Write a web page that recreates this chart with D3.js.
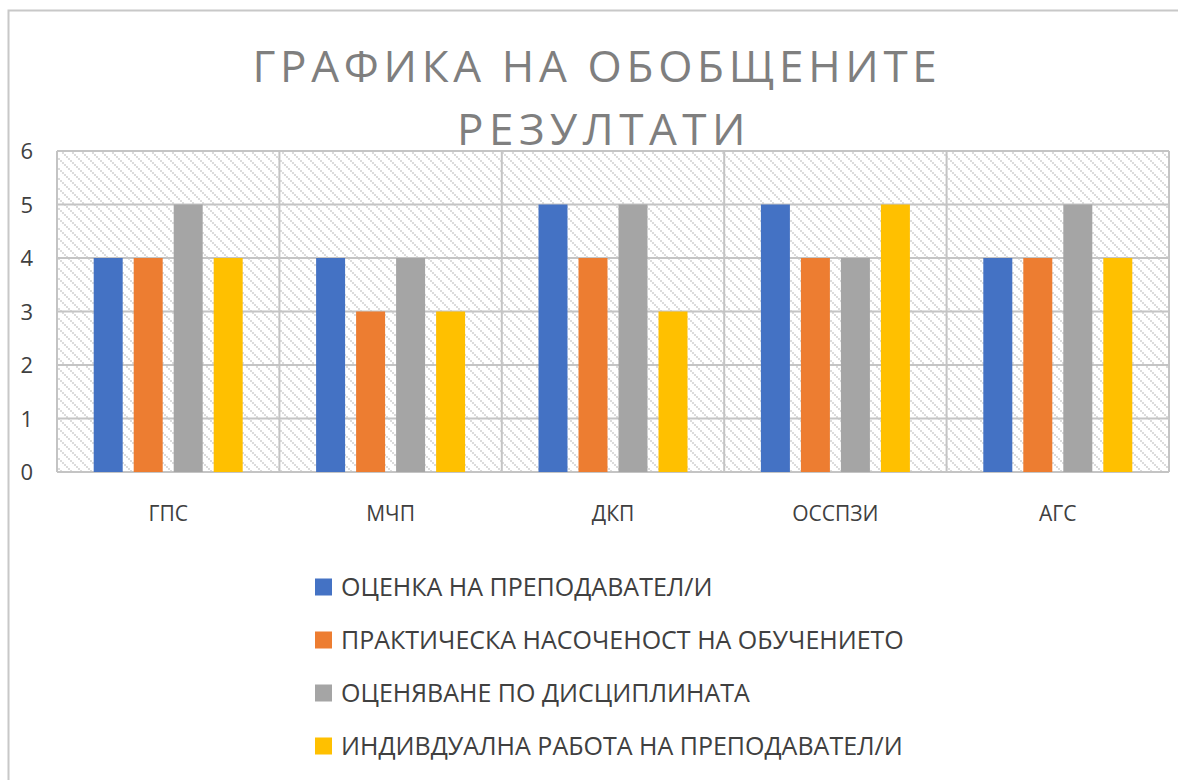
<!DOCTYPE html>
<html>
<head>
<meta charset="utf-8">
<script src="https://cdn.jsdelivr.net/npm/d3@7"></script>
<style>
  html, body { margin: 0; padding: 0; background: #fff; }
  svg { display: block; }
</style>
</head>
<body>
<svg id="chart" width="1178" height="780"></svg>
<script>
const titleLines = ["ГРАФИКА НА ОБОБЩЕНИТЕ", "РЕЗУЛТАТИ"];
const categories = ["ГПС", "МЧП", "ДКП", "ОССПЗИ", "АГС"];
const seriesNames = [
  "ОЦЕНКА НА ПРЕПОДАВАТЕЛ/И",
  "ПРАКТИЧЕСКА НАСОЧЕНОСТ НА ОБУЧЕНИЕТО",
  "ОЦЕНЯВАНЕ ПО ДИСЦИПЛИНАТА",
  "ИНДИВДУАЛНА РАБОТА НА ПРЕПОДАВАТЕЛ/И"
];
const seriesColors = ["#4472c4", "#ed7d31", "#a5a5a5", "#ffc000"];
const s1 = [4, 4, 5, 5, 4];
const s2 = [4, 3, 4, 4, 4];
const s3 = [5, 4, 5, 4, 5];
const s4 = [4, 3, 3, 5, 4];
const yTicks = [0, 1, 2, 3, 4, 5, 6];

const seriesValues = [s1, s2, s3, s4];
const svg = d3.select("#chart");
const font = "'Open Sans', 'Noto Sans', sans-serif";

// outer chart border
svg.append("rect").attr("x", 8.5).attr("y", 10.5).attr("width", 1200).attr("height", 800)
  .attr("fill", "#fff").attr("stroke", "#c8c8c8").attr("stroke-width", 2);

// pattern
const defs = svg.append("defs");
const T = 10;
const pat = defs.append("pattern").attr("id", "hatch").attr("patternUnits", "userSpaceOnUse")
  .attr("width", T).attr("height", T);
pat.append("rect").attr("width", T).attr("height", T).attr("fill", "#ffffff");
d3.range(0, T, 2).forEach(k => {
  pat.append("rect").attr("x", k).attr("y", k).attr("width", 2).attr("height", 2).attr("fill", "#dcdcdc");
});

const plot = { left: 57, top: 151, right: 1169, bottom: 472 };

const x0 = d3.scaleBand().domain(categories).range([plot.left, plot.right]).padding(0);
const groupW = 149;
const x1 = d3.scaleBand().domain(d3.range(seriesNames.length))
  .range([(x0.bandwidth() - groupW) / 2, (x0.bandwidth() + groupW) / 2])
  .paddingInner(11 / 40).paddingOuter(0);
const y = d3.scaleLinear().domain([0, 6]).range([plot.bottom, plot.top]);

// plot area background
svg.append("rect").attr("x", plot.left).attr("y", plot.top)
  .attr("width", plot.right - plot.left).attr("height", plot.bottom - plot.top)
  .attr("fill", "url(#hatch)");

// horizontal grid
const grid = svg.append("g").attr("stroke", "#c4c4c4").attr("stroke-width", 2);
grid.selectAll("line.h").data(yTicks).join("line").attr("class", "h")
  .attr("x1", plot.left).attr("x2", plot.right)
  .attr("y1", d => y(d)).attr("y2", d => y(d));
// vertical grid (category boundaries)
const vb = categories.map(c => x0(c)).concat([plot.right]);
grid.selectAll("line.v").data(vb).join("line").attr("class", "v")
  .attr("x1", d => d).attr("x2", d => d)
  .attr("y1", plot.top).attr("y2", plot.bottom);

// bars
const groups = svg.append("g").selectAll("g").data(categories).join("g")
  .attr("transform", c => `translate(${x0(c)},0)`);
groups.selectAll("rect").data((c, ci) => seriesValues.map((s, si) => ({ si, v: s[ci] })))
  .join("rect")
  .attr("x", d => x1(d.si)).attr("width", x1.bandwidth())
  .attr("y", d => y(d.v)).attr("height", d => y(0) - y(d.v))
  .attr("fill", d => seriesColors[d.si]);

// y axis labels
const yAxis = d3.axisLeft(y).tickValues(yTicks).tickSize(0).tickPadding(0).tickFormat(d3.format("d"));
const ya = svg.append("g").attr("transform", "translate(33,0)").call(yAxis);
ya.select(".domain").remove();
ya.selectAll("text").attr("font-family", font).attr("font-size", 22).attr("fill", "#404040")
  .attr("dy", "0.35em");

// x axis labels
const xAxis = d3.axisBottom(x0).tickSize(0).tickPadding(0);
const xa = svg.append("g").attr("transform", `translate(0,${plot.bottom + 34})`).call(xAxis);
xa.select(".domain").remove();
xa.selectAll("text").attr("font-family", font).attr("font-size", 21).attr("fill", "#404040");

// title
svg.append("g").selectAll("text").data(titleLines).join("text")
  .attr("x", (d, i) => i === 0 ? 597 : 604).attr("y", (d, i) => 82 + i * 63)
  .attr("text-anchor", "middle")
  .attr("font-family", font).attr("font-size", 44)
  .attr("letter-spacing", (d, i) => i === 0 ? 4.7 : 5.5)
  .attr("fill", "#7f7f7f").text(d => d);

// legend
const leg = svg.append("g").selectAll("g").data(seriesNames).join("g")
  .attr("transform", (d, i) => `translate(315,${587 + i * 53})`);
leg.append("rect").attr("x", 0).attr("y", -8.5).attr("width", 17).attr("height", 17)
  .attr("fill", (d, i) => seriesColors[i]);
leg.append("text").attr("x", 26).attr("y", 0).attr("dy", "0.35em")
  .attr("font-family", font).attr("font-size", 25).attr("fill", "#404040").text(d => d);
</script>
</body>
</html>
